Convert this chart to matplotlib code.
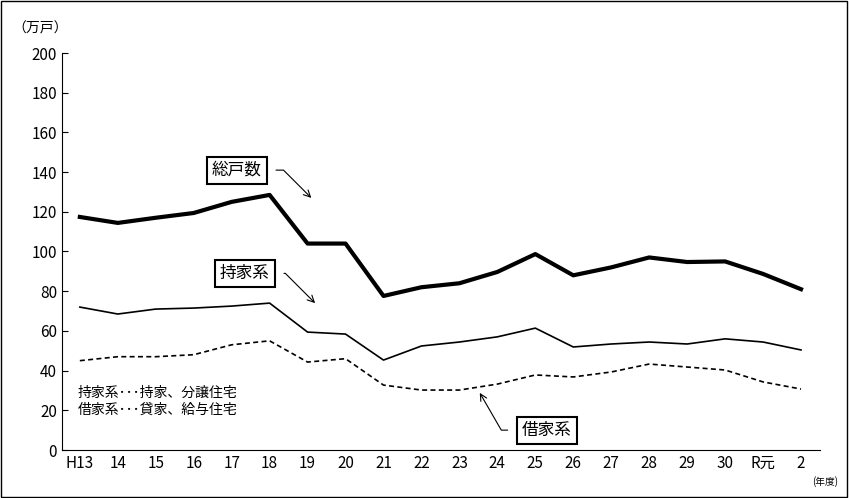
import matplotlib.pyplot as plt
from matplotlib.patches import Rectangle

plt.rcParams['font.family'] = 'Noto Sans CJK JP'

years = ['H13', '14', '15', '16', '17', '18', '19', '20', '21', '22', '23', '24',
         '25', '26', '27', '28', '29', '30', 'R元', '2']
total = [117.4, 114.4, 117, 119.4, 125, 128.5, 104, 104, 77.6, 82, 84, 89.7,
         98.7, 88, 92, 97, 94.7, 95, 88.7, 81]
owned = [72, 68.5, 71, 71.5, 72.5, 74, 59.4, 58.4, 45.3, 52.4, 54.4, 57,
         61.4, 51.9, 53.4, 54.4, 53.4, 56, 54.4, 50.4]
rented = [45, 47, 47, 48, 53, 55, 44.3, 46, 32.7, 30.2, 30.2, 33.2,
          37.8, 36.8, 39.3, 43.3, 41.8, 40.3, 34.3, 30.7]

fig = plt.figure(figsize=(8.49, 4.98), dpi=100)
fig.patches.append(Rectangle((0.001, 0.002), 0.997, 0.996, transform=fig.transFigure,
                             fill=False, edgecolor='black', linewidth=1))
ax = fig.add_axes([62 / 849, 48 / 498, 758 / 849, 397 / 498])

x = range(len(years))
ax.plot(x, total, color='black', linewidth=3)
ax.plot(x, owned, color='black', linewidth=1.2)
ax.plot(x, rented, color='black', linewidth=1.2, linestyle=(0, (3, 2)))

ax.set_xlim(-0.47, 19.5)
ax.set_ylim(0, 200)
ax.set_yticks(range(0, 201, 20))
ax.set_xticks(list(x))
ax.set_xticklabels(years)
ax.tick_params(labelsize=11, direction='in', length=4)
ax.tick_params(axis='x', length=0)
ax.spines['top'].set_visible(False)
ax.spines['right'].set_visible(False)

box = dict(boxstyle='square,pad=0.3', facecolor='white', edgecolor='black', linewidth=1.5)
arrow = dict(arrowstyle='->', color='black', linewidth=0.8, shrinkA=6,
             connectionstyle='angle,angleA=0,angleB=135,rad=0')
ax.annotate('総戸数', xy=(6.15, 126), xytext=(4.14, 141), fontsize=12, ha='center',
            va='center', bbox=box, arrowprops=arrow)
ax.annotate('持家系', xy=(6.25, 73), xytext=(4.35, 89), fontsize=12, ha='center',
            va='center', bbox=box, arrowprops=arrow)
ax.annotate('借家系', xy=(10.5, 30), xytext=(12.3, 10), fontsize=12, ha='center',
            va='center', bbox=box,
            arrowprops=dict(arrowstyle='->', color='black', linewidth=0.8, shrinkA=6,
                            connectionstyle='angle,angleA=0,angleB=120,rad=0'))

ax.text(-0.05, 29, '持家系･･･持家、分譲住宅', fontsize=10, va='center')
ax.text(-0.05, 20, '借家系･･･貸家、給与住宅', fontsize=10, va='center')
fig.text(40 / 849, 1 - 28 / 498, '（万戸）', fontsize=10, ha='center', va='center')
fig.text(825 / 849, 1 - 482 / 498, '(年度)', fontsize=7, ha='center', va='center')

fig.savefig('out.png', dpi=100)
